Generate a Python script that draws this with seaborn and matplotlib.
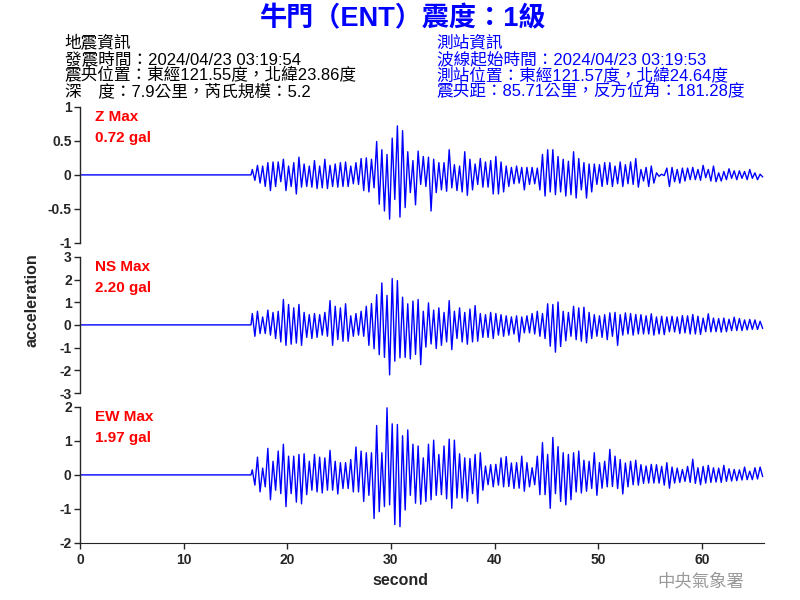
import numpy as np
import pandas as pd
import seaborn as sns
import matplotlib
matplotlib.use("Agg")
import matplotlib.pyplot as plt

# Peak values, one (max, min) pair per 0.5 s bin starting at 16.5 s
bin_start = np.arange(16.5, 66.0, 0.5)

z_max = [0.08, 0.14, 0.13, 0.18, 0.19, 0.19, 0.23, 0.13, 0.18, 0.26,
         0.16, 0.13, 0.21, 0.13, 0.23, 0.14, 0.16, 0.18, 0.19, 0.13,
         0.18, 0.24, 0.25, 0.23, 0.49, 0.37, 0.30, 0.54, 0.72, 0.65,
         0.34, 0.21, 0.35, 0.27, 0.26, 0.23, 0.18, 0.18, 0.37, 0.15,
         0.13, 0.34, 0.23, 0.16, 0.24, 0.19, 0.21, 0.27, 0.19, 0.13,
         0.11, 0.13, 0.11, 0.11, 0.11, 0.10, 0.30, 0.37, 0.37, 0.27,
         0.23, 0.20, 0.34, 0.24, 0.18, 0.16, 0.16, 0.15, 0.18, 0.18,
         0.13, 0.19, 0.15, 0.19, 0.24, 0.08, 0.11, 0.13, 0.03, 0.01,
         0.10, 0.11, 0.08, 0.10, 0.10, 0.11, 0.08, 0.14, 0.08, 0.13,
         0.03, 0.05, 0.09, 0.06, 0.06, 0.05, 0.08, 0.03, 0.01]
z_min = [-0.08, -0.12, -0.17, -0.23, -0.17, -0.10, -0.23, -0.17, -0.28, -0.18,
         -0.17, -0.18, -0.20, -0.19, -0.20, -0.17, -0.18, -0.17, -0.17, -0.13,
         -0.14, -0.23, -0.25, -0.19, -0.43, -0.53, -0.65, -0.36, -0.62, -0.48,
         -0.26, -0.44, -0.14, -0.17, -0.53, -0.26, -0.22, -0.24, -0.19, -0.23,
         -0.25, -0.30, -0.22, -0.14, -0.18, -0.18, -0.28, -0.28, -0.25, -0.17,
         -0.13, -0.12, -0.22, -0.14, -0.13, -0.22, -0.31, -0.25, -0.29, -0.25,
         -0.31, -0.29, -0.34, -0.22, -0.34, -0.25, -0.14, -0.17, -0.14, -0.17,
         -0.13, -0.17, -0.13, -0.14, -0.18, -0.09, -0.17, -0.12, -0.02, -0.01,
         -0.17, -0.10, -0.12, -0.09, -0.07, -0.07, -0.08, -0.04, -0.09, -0.10,
         -0.09, -0.07, -0.05, -0.07, -0.05, -0.07, -0.05, -0.07, -0.03]

ns_max = [0.50, 0.60, 0.35, 0.65, 0.55, 0.60, 1.12, 0.90, 0.75, 0.90,
          0.55, 0.45, 0.50, 0.45, 0.55, 1.07, 0.82, 0.75, 0.93, 0.40,
          0.50, 0.60, 0.82, 0.94, 1.33, 1.85, 1.30, 2.04, 1.95, 1.22,
          0.93, 1.05, 1.12, 0.60, 0.97, 0.65, 0.75, 0.55, 1.07, 0.60,
          0.75, 0.55, 0.70, 0.85, 0.50, 0.45, 0.55, 0.50, 0.45, 0.40,
          0.35, 0.40, 0.35, 0.40, 0.50, 0.60, 0.50, 0.93, 0.90, 1.01,
          0.60, 0.55, 0.82, 0.75, 0.78, 0.55, 0.45, 0.40, 0.45, 0.53,
          0.55, 0.45, 0.53, 0.50, 0.46, 0.45, 0.40, 0.49, 0.35, 0.38,
          0.35, 0.38, 0.35, 0.41, 0.40, 0.46, 0.38, 0.30, 0.49, 0.30,
          0.28, 0.30, 0.25, 0.34, 0.28, 0.22, 0.24, 0.22, 0.16]
ns_min = [-0.50, -0.38, -0.38, -0.45, -0.60, -0.75, -0.90, -0.85, -0.80, -0.90,
          -0.55, -0.60, -0.55, -0.45, -0.50, -0.90, -0.65, -0.72, -0.72, -0.50,
          -0.45, -0.50, -0.90, -1.05, -1.31, -1.43, -2.20, -1.60, -1.45, -1.43,
          -1.50, -1.30, -1.75, -0.98, -0.84, -1.04, -0.90, -0.75, -1.09, -0.60,
          -0.75, -0.85, -0.75, -0.72, -0.55, -0.55, -0.60, -0.45, -0.50, -0.45,
          -0.40, -0.75, -0.35, -0.35, -0.40, -0.50, -0.60, -0.94, -1.20, -0.95,
          -0.70, -0.50, -0.65, -0.72, -0.79, -0.60, -0.50, -0.55, -0.65, -0.50,
          -0.90, -0.45, -0.40, -0.45, -0.40, -0.40, -0.40, -0.45, -0.40, -0.43,
          -0.30, -0.31, -0.38, -0.35, -0.40, -0.40, -0.42, -0.30, -0.31, -0.30,
          -0.32, -0.30, -0.25, -0.25, -0.25, -0.22, -0.20, -0.20, -0.16]

ew_max = [0.15, 0.52, 0.20, 0.78, 0.40, 0.70, 0.90, 0.55, 0.55, 0.60,
          0.62, 0.40, 0.60, 0.52, 0.50, 0.72, 0.40, 0.36, 0.36, 0.45,
          0.82, 0.70, 0.65, 0.65, 1.45, 0.65, 1.97, 1.50, 1.48, 1.15,
          1.32, 0.90, 0.85, 0.50, 0.90, 1.02, 0.60, 0.85, 1.05, 1.02,
          0.62, 0.50, 0.48, 0.60, 0.65, 0.26, 0.30, 0.31, 0.50, 0.54,
          0.35, 0.36, 0.55, 0.36, 0.21, 0.55, 0.95, 0.60, 1.10, 0.83,
          0.65, 0.60, 0.65, 0.70, 0.43, 0.40, 0.65, 0.36, 0.40, 0.75,
          0.55, 0.45, 0.35, 0.40, 0.43, 0.30, 0.26, 0.31, 0.30, 0.25,
          0.36, 0.23, 0.20, 0.16, 0.25, 0.46, 0.21, 0.25, 0.28, 0.21,
          0.20, 0.28, 0.18, 0.16, 0.15, 0.23, 0.11, 0.21, 0.23]
ew_min = [-0.30, -0.50, -0.35, -0.73, -0.45, -0.55, -0.93, -0.55, -0.80, -0.85,
          -0.58, -0.45, -0.50, -0.53, -0.45, -0.45, -0.56, -0.40, -0.40, -0.50,
          -0.50, -0.78, -0.60, -1.28, -1.08, -0.93, -0.88, -1.46, -1.52, -1.03,
          -0.60, -0.83, -0.86, -0.78, -0.73, -0.60, -0.58, -0.70, -0.98, -0.68,
          -0.68, -0.78, -0.55, -0.83, -0.45, -0.29, -0.35, -0.30, -0.35, -0.34,
          -0.40, -0.39, -0.48, -0.35, -0.29, -0.58, -0.58, -0.98, -0.55, -0.78,
          -0.88, -0.73, -0.50, -0.53, -0.48, -0.40, -0.60, -0.39, -0.35, -0.34,
          -0.40, -0.56, -0.35, -0.29, -0.30, -0.25, -0.24, -0.24, -0.24, -0.30,
          -0.39, -0.24, -0.22, -0.19, -0.22, -0.25, -0.29, -0.24, -0.22, -0.21,
          -0.22, -0.19, -0.18, -0.17, -0.15, -0.14, -0.14, -0.12, -0.05]

components = ["Z", "NS", "EW"]
max_labels = ["0.72 gal", "2.20 gal", "1.97 gal"]
ylims = [1, 3, 2]
yticks = [[-1, -0.5, 0, 0.5, 1], [-3, -2, -1, 0, 1, 2, 3], [-2, -1, 0, 1, 2]]
peaks = {"Z": (z_max, z_min), "NS": (ns_max, ns_min), "EW": (ew_max, ew_min)}


def trace(comp):
    hi, lo = peaks[comp]
    t = [0.0, 16.5]
    v = [0.0, 0.0]
    for s, a, b in zip(bin_start, hi, lo):
        t += [s + 0.125, s + 0.375]
        v += [a, b]
    return pd.DataFrame({"second": t, "acc": v, "comp": comp})


data = pd.concat([trace(c) for c in components], ignore_index=True)

sns.set_style("ticks")
plt.rcParams['font.family'] = ['Liberation Sans', 'Noto Sans CJK TC', 'DejaVu Sans']

fig = plt.figure(figsize=(8, 6), dpi=100)
bottoms = [0.595, 0.345, 0.095]
axes = [fig.add_axes([0.1, b, 0.855, 0.227]) for b in bottoms]

for ax, comp, lab, lim, tk in zip(axes, components, max_labels, ylims, yticks):
    sns.lineplot(data=data[data["comp"] == comp], x="second", y="acc", ax=ax,
                 color="#0000FF", linewidth=1.0, sort=False, estimator=None)
    ax.set_xlim(0, 66)
    ax.set_ylim(-lim, lim)
    ax.set_yticks(tk)
    ax.set_yticklabels([f"{v:g}" for v in tk], fontsize=10, fontweight="bold")
    ax.set_xlabel("")
    ax.set_ylabel("")
    ax.tick_params(axis="y", length=4, width=1, pad=2)
    for s in ["top", "right"]:
        ax.spines[s].set_visible(False)
    ax.spines["left"].set_linewidth(1)
    ax.text(0.022, 0.925, f"{comp} Max", transform=ax.transAxes, color="red",
            fontsize=11, fontweight="bold", va="center")
    ax.text(0.022, 0.77, lab, transform=ax.transAxes, color="red",
            fontsize=11, fontweight="bold", va="center")

for ax in axes[:2]:
    ax.spines["bottom"].set_visible(False)
    ax.set_xticks([])

axes[2].set_xticks(range(0, 70, 10))
axes[2].set_xticklabels([str(v) for v in range(0, 70, 10)], fontsize=10, fontweight="bold")
axes[2].tick_params(axis="x", length=4, width=1)

fig.text(0.5, 0.033, "second", ha="center", va="center", fontsize=11.5, fontweight="bold")
fig.text(0.04, 0.5, "acceleration", ha="center", va="center", rotation=90,
         fontsize=11.5, fontweight="bold")

fig.text(0.503, 0.968, "牛門（ENT）震度：1級", ha="center", va="center",
         color="#0000FF", fontsize=19.5, fontweight="bold")

left_info = ["地震資訊", "發震時間：2024/04/23 03:19:54",
             "震央位置：東經121.55度，北緯23.86度", "深　度：7.9公里，芮氏規模：5.2"]
right_info = ["測站資訊", "波線起始時間：2024/04/23 03:19:53",
              "測站位置：東經121.57度，北緯24.64度", "震央距：85.71公里，反方位角：181.28度"]
for i, (l, r) in enumerate(zip(left_info, right_info)):
    y = 1 - (43 + 16 * i) / 600
    fig.text(0.081, y, l, ha="left", va="center", fontsize=12, color="black")
    fig.text(0.546, y, r, ha="left", va="center", fontsize=12, color="#0000FF")

fig.text(0.876, 0.032, "中央氣象署", ha="center", va="center", fontsize=12.5,
         color="#999999")

fig.savefig("out.png", dpi=100)
